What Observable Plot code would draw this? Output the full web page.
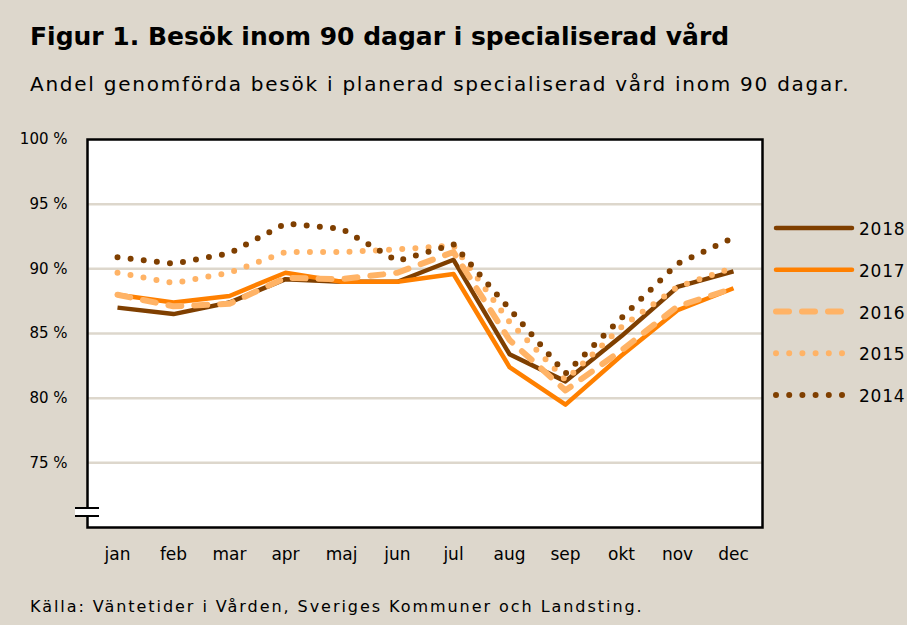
<!DOCTYPE html>
<html>
<head>
<meta charset="utf-8">
<script src="https://cdn.jsdelivr.net/npm/d3@7"></script>
<script src="https://cdn.jsdelivr.net/npm/@observablehq/plot@0.6"></script>
<style>
  html, body { margin:0; padding:0; }
  body { width:907px; height:625px; background:#ddd7cc; position:relative; overflow:hidden; font-family:"DejaVu Sans", sans-serif; color:#000; }
  #title { position:absolute; left:30px; top:22px; font-size:25px; font-weight:bold; white-space:nowrap; }
  #subtitle { position:absolute; left:30px; top:72px; font-size:20px; white-space:nowrap; letter-spacing:1.75px; }
  #caption { position:absolute; left:30px; top:597px; font-size:16px; white-space:nowrap; letter-spacing:1.95px; }
  #chart { position:absolute; left:0; top:110px; }
  #legend { position:absolute; left:0; top:0; }
  #brk { position:absolute; left:75px; top:507px; width:24px; height:6px; border-top:2px solid #000; border-bottom:2px solid #000; background:#fff; }
</style>
</head>
<body>
<div id="title">Figur 1. Besök inom 90 dagar i specialiserad vård</div>
<div id="subtitle">Andel genomförda besök i planerad specialiserad vård inom 90 dagar.</div>
<div id="chart"></div>
<div id="brk"></div>
<svg id="legend" width="907" height="625"></svg>
<div id="caption">Källa: Väntetider i Vården, Sveriges Kommuner och Landsting.</div>
<script>
const months = ["jan","feb","mar","apr","maj","jun","jul","aug","sep","okt","nov","dec"];
const series = ["2018","2017","2016","2015","2014"];
const v2018 = [87.0, 86.5, 87.4, 89.2, 89.0, 89.0, 90.7, 83.4, 81.3, 84.8, 88.6, 89.8];
const v2017 = [88.0, 87.4, 87.9, 89.7, 89.0, 89.0, 89.6, 82.4, 79.5, 83.3, 86.8, 88.5];
const v2016 = [88.0, 87.1, 87.3, 89.3, 89.2, 89.7, 91.3, 84.5, 80.6, 83.7, 87.1, 88.5];
const v2015 = [89.7, 88.9, 89.7, 91.3, 91.3, 91.5, 91.8, 85.9, 81.4, 85.5, 88.6, 90.1];
const v2014 = [90.9, 90.4, 91.2, 93.5, 93.1, 90.6, 91.9, 86.9, 81.9, 86.2, 90.4, 92.4];
const yTicks = [75, 80, 85, 90, 95, 100];
const gridValues = [75, 80, 85, 90, 95];

const values = {"2018": v2018, "2017": v2017, "2016": v2016, "2015": v2015, "2014": v2014};
const styles = {
  "2018": {stroke:"#7f3f00", width:4.5, dash:null, cap:"butt"},
  "2017": {stroke:"#ff8000", width:4.5, dash:null, cap:"butt"},
  "2016": {stroke:"#ffb366", width:6, dash:"13 13", cap:"round"},
  "2015": {stroke:"#ffb366", width:6, dash:"0 13.2", cap:"round"},
  "2014": {stroke:"#7f3f00", width:6, dash:"0 13.2", cap:"round"}
};
const rows = series.flatMap(s => months.map((m, i) => ({year:s, month:m, value:values[s][i]})));

const lineMarks = series.map(s => Plot.line(rows.filter(d => d.year === s), {
  x:"month", y:"value", stroke: styles[s].stroke, strokeWidth: styles[s].width,
  strokeDasharray: styles[s].dash, strokeLinecap: styles[s].cap, strokeLinejoin:"round"
}));

const chart = Plot.plot({
  width:907, height:470,
  marginLeft:87, marginRight:145, marginTop:29, marginBottom:53,
  style:{background:"transparent", fontFamily:"DejaVu Sans, sans-serif", fontSize:"15px", color:"#000"},
  x:{type:"point", domain:months, padding:0.5, label:null},
  y:{domain:[70,100], label:null},
  marks:[
    Plot.frame({fill:"white"}),
    Plot.ruleY(gridValues, {stroke:"#ddd7cc", strokeWidth:2.5}),
    ...lineMarks,
    Plot.frame({stroke:"#000", strokeWidth:2.5}),
    Plot.axisX({tickSize:0, tickPadding:20, fontSize:17, label:null, style:{letterSpacing:"1px"}}),
    Plot.axisY({ticks:yTicks, tickFormat:d => d + " %", tickSize:0, tickPadding:20, fontSize:15, label:null})
  ]
});
document.getElementById("chart").appendChild(chart);

// legend
const lg = d3.select("#legend");
const legY = d3.scalePoint().domain(series).range([228, 395]);
series.forEach(s => {
  const st = styles[s];
  lg.append("line").attr("x1", 776).attr("x2", 852).attr("y1", legY(s)).attr("y2", legY(s))
    .attr("stroke", st.stroke).attr("stroke-width", st.width)
    .attr("stroke-dasharray", st.dash).attr("stroke-linecap", "round");
  lg.append("text").attr("x", 859).attr("y", legY(s) + 7).text(s)
    .attr("font-family", "DejaVu Sans, sans-serif").attr("font-size", 17)
    .attr("letter-spacing", "0.8px").attr("fill", "#000");
});
</script>
</body>
</html>
